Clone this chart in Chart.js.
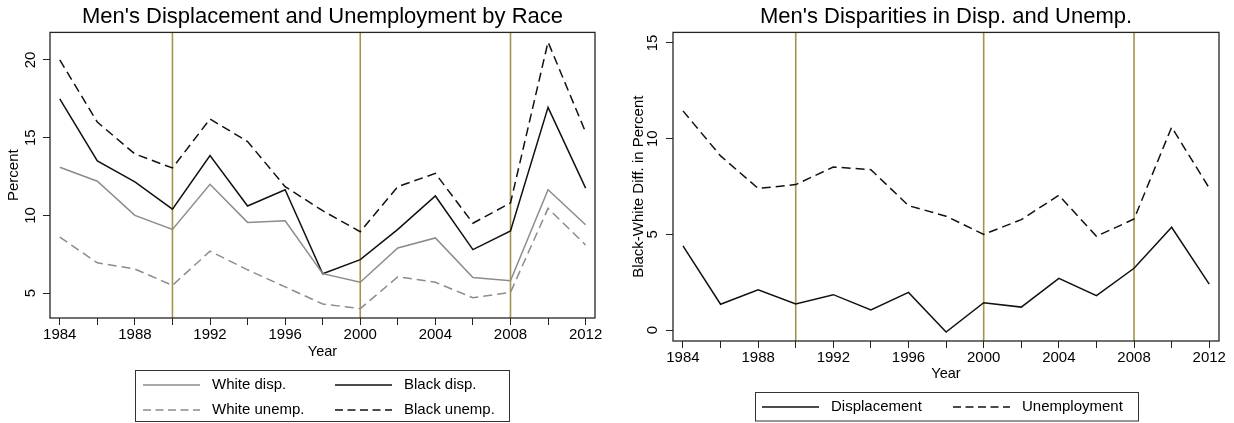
<!DOCTYPE html>
<html>
<head>
<meta charset="utf-8">
<title>Men's Displacement and Unemployment</title>
<script src="https://cdn.jsdelivr.net/npm/chart.js@4.4.1/dist/chart.umd.min.js"></script>
<style>
  html, body { margin: 0; padding: 0; background: #fff; }
  #wrap { position: relative; width: 1234px; height: 423px; overflow: hidden; background: #fff; }
  #wrap canvas { position: absolute; top: 0; }
  #left { left: 0; }
  #right { left: 617px; }
</style>
</head>
<body>
<div id="wrap">
  <canvas id="left" width="617" height="423"></canvas>
  <canvas id="right" width="617" height="423"></canvas>
</div>
<script>
// Survey years
const years = [1984, 1986, 1988, 1990, 1992, 1994, 1996, 1998, 2000, 2002, 2004, 2006, 2008, 2010, 2012];

// Rates by race (percent)
const whiteDisp   = [13.1, 12.2, 10.0, 9.1, 12.0, 9.55, 9.65, 6.25, 5.7, 7.9, 8.55, 6.0, 5.8, 11.65, 9.4];
const blackDisp   = [17.5, 13.5, 12.15, 10.4, 13.85, 10.6, 11.65, 6.25, 7.15, 9.1, 11.25, 7.8, 9.0, 16.95, 11.75];
const whiteUnemp  = [8.6, 6.95, 6.55, 5.5, 7.7, 6.5, 5.4, 4.3, 4.0, 6.05, 5.7, 4.7, 5.05, 10.45, 8.1];
const blackUnemp  = [20.0, 16.0, 13.95, 13.05, 16.2, 14.75, 11.85, 10.3, 8.95, 11.85, 12.7, 9.5, 10.8, 21.15, 15.35];

// Black-white gaps (percentage points)
const dispGap  = [4.4, 1.35, 2.1, 1.37, 1.85, 1.05, 1.97, -0.1, 1.43, 1.2, 2.7, 1.8, 3.23, 5.37, 2.4];
const unempGap = [11.45, 9.1, 7.4, 7.6, 8.52, 8.38, 6.5, 5.95, 5.0, 5.77, 7.04, 4.9, 5.8, 10.6, 7.42];

// Recession reference years
const recessionYears = [1990, 2000, 2008];

// Axis ticks
const xTickValues = [1984, 1986, 1988, 1990, 1992, 1994, 1996, 1998, 2000, 2002, 2004, 2006, 2008, 2010, 2012];
const xTickLabels = ['1984', '1988', '1992', '1996', '2000', '2004', '2008', '2012'];
const leftYTicks  = [5, 10, 15, 20];
const rightYTicks = [0, 5, 10, 15];

Chart.defaults.font.family = "'Liberation Sans', Arial, Helvetica, sans-serif";
Chart.defaults.color = '#000';

const BLACK = '#111111';
const GRAY = '#8c8c8c';

function points(values) {
  return years.map((x, i) => ({ x: x, y: values[i] }));
}

// Vertical reference lines across the plot region
const markerLines = {
  id: 'markerLines',
  beforeDatasetsDraw(chart, args, opts) {
    const { ctx, chartArea: a, scales: { x } } = chart;
    ctx.save();
    ctx.strokeStyle = opts.color;
    ctx.lineWidth = opts.width;
    (opts.values || []).forEach(v => {
      const px = x.getPixelForValue(v);
      ctx.beginPath();
      ctx.moveTo(px, a.top);
      ctx.lineTo(px, a.bottom);
      ctx.stroke();
    });
    ctx.restore();
  }
};

// Box around the plot region
const plotFrame = {
  id: 'plotFrame',
  afterDatasetsDraw(chart, args, opts) {
    const { ctx, chartArea: a } = chart;
    ctx.save();
    ctx.strokeStyle = opts.color;
    ctx.lineWidth = opts.width;
    ctx.strokeRect(a.left, a.top, a.right - a.left, a.bottom - a.top);
    ctx.restore();
  }
};

// Boxed legend laid out in a grid below the axis
const boxLegend = {
  id: 'boxLegend',
  afterDraw(chart, args, opts) {
    const ctx = chart.ctx;
    const b = opts.box;
    ctx.save();
    ctx.strokeStyle = opts.borderColor;
    ctx.lineWidth = 1;
    ctx.setLineDash([]);
    ctx.strokeRect(b.x + 0.5, b.y + 0.5, b.w, b.h);
    ctx.font = opts.fontSize + 'px ' + Chart.defaults.font.family;
    ctx.textBaseline = 'middle';
    ctx.textAlign = 'left';
    chart.data.datasets.forEach((ds, i) => {
      const s = opts.slots[i];
      if (!s) return;
      ctx.strokeStyle = ds.borderColor;
      ctx.lineWidth = ds.borderWidth;
      ctx.setLineDash(ds.legendDash || []);
      ctx.beginPath();
      ctx.moveTo(s.x, s.y);
      ctx.lineTo(s.x + opts.sampleLength, s.y);
      ctx.stroke();
      ctx.setLineDash([]);
      ctx.fillStyle = '#000';
      ctx.fillText(ds.label, s.x + opts.sampleLength + opts.textGap, s.y);
    });
    ctx.restore();
  }
};

function makeOptions(p) {
  return {
    responsive: false,
    devicePixelRatio: 1,
    animation: false,
    layout: { padding: p.layoutPadding },
    elements: { point: { radius: 0 }, line: { tension: 0 } },
    scales: {
      x: {
        type: 'linear',
        min: p.xMin,
        max: p.xMax,
        afterBuildTicks: s => { s.ticks = xTickValues.map(v => ({ value: v })); },
        afterFit: s => { s.height = p.xAxisHeight; },
        ticks: {
          autoSkip: false,
          minRotation: 0,
          maxRotation: 0,
          padding: p.xTickPadding,
          color: '#000',
          font: { size: 15 },
          callback: v => (xTickLabels.includes(String(v)) ? String(v) : '')
        },
        grid: { drawOnChartArea: false, drawTicks: true, tickLength: 7, tickColor: '#222', lineWidth: 1 },
        border: { display: false },
        title: { display: true, text: 'Year', color: '#000', font: { size: 14.5 }, padding: { top: 0, bottom: 0 } }
      },
      y: {
        type: 'linear',
        min: p.yMin,
        max: p.yMax,
        afterBuildTicks: s => { s.ticks = p.yTicks.map(v => ({ value: v })); },
        afterFit: s => { s.width = p.yAxisWidth; },
        ticks: {
          minRotation: 90,
          maxRotation: 90,
          crossAlign: 'center',
          padding: p.yTickPadding,
          color: '#000',
          font: { size: 15 },
          callback: v => String(v)
        },
        grid: { drawOnChartArea: false, drawTicks: true, tickLength: 7, tickColor: '#222', lineWidth: 1 },
        border: { display: false },
        title: { display: true, text: p.yTitle, color: '#000', font: { size: 15 }, padding: { top: p.yTitlePad, bottom: 0 } }
      }
    },
    plugins: {
      legend: { display: false },
      tooltip: { enabled: false },
      title: {
        display: true,
        text: p.title,
        fullSize: false,
        color: '#000',
        font: { size: 22, weight: 'normal' },
        padding: { top: 4, bottom: 2 }
      },
      markerLines: { values: recessionYears, color: '#a8924f', width: 1.6 },
      plotFrame: { color: '#262626', width: 1.3 },
      boxLegend: p.legend
    }
  };
}

new Chart(document.getElementById('left'), {
  type: 'line',
  data: {
    datasets: [
      { label: 'White disp.', data: points(whiteDisp), borderColor: GRAY, borderWidth: 1.5, borderDash: [], legendDash: [] },
      { label: 'Black disp.', data: points(blackDisp), borderColor: BLACK, borderWidth: 1.5, borderDash: [], legendDash: [] },
      { label: 'White unemp.', data: points(whiteUnemp), borderColor: GRAY, borderWidth: 1.5, borderDash: [9, 5], legendDash: [8, 4.5] },
      { label: 'Black unemp.', data: points(blackUnemp), borderColor: BLACK, borderWidth: 1.5, borderDash: [9, 5], legendDash: [8, 4.5] }
    ]
  },
  options: makeOptions({
    title: "Men's Displacement and Unemployment by Race",
    layoutPadding: { left: 0, right: 22, top: 0, bottom: 62 },
    xMin: 1983.48, xMax: 2012.5,
    yMin: 3.4, yMax: 21.77,
    yTicks: leftYTicks,
    xAxisHeight: 43, xTickPadding: 1,
    yAxisWidth: 50, yTickPadding: 3.6,
    yTitle: 'Percent', yTitlePad: 5,
    legend: {
      box: { x: 135, y: 370, w: 374, h: 51 },
      borderColor: '#333',
      fontSize: 15,
      sampleLength: 57,
      textGap: 12,
      slots: [
        { x: 143, y: 385 }, { x: 335, y: 385 },
        { x: 143, y: 410 }, { x: 335, y: 410 }
      ]
    }
  }),
  plugins: [markerLines, plotFrame, boxLegend]
});

new Chart(document.getElementById('right'), {
  type: 'line',
  data: {
    datasets: [
      { label: 'Displacement', data: points(dispGap), borderColor: BLACK, borderWidth: 1.5, borderDash: [], legendDash: [] },
      { label: 'Unemployment', data: points(unempGap), borderColor: BLACK, borderWidth: 1.5, borderDash: [9, 5], legendDash: [8, 4.5] }
    ]
  },
  options: makeOptions({
    title: "Men's Disparities in Disp. and Unemp.",
    layoutPadding: { left: 0, right: 15, top: 0, bottom: 40 },
    xMin: 1983.47, xMax: 2012.52,
    yMin: -0.57, yMax: 15.55,
    yTicks: rightYTicks,
    xAxisHeight: 42, xTickPadding: 1.3,
    yAxisWidth: 56, yTickPadding: 5,
    yTitle: 'Black-White Diff. in Percent', yTitlePad: 12.5,
    legend: {
      box: { x: 138, y: 392, w: 383, h: 28.5 },
      borderColor: '#333',
      fontSize: 15,
      sampleLength: 57,
      textGap: 12,
      slots: [ { x: 145, y: 407 }, { x: 336, y: 407 } ]
    }
  }),
  plugins: [markerLines, plotFrame, boxLegend]
});
</script>
</body>
</html>
